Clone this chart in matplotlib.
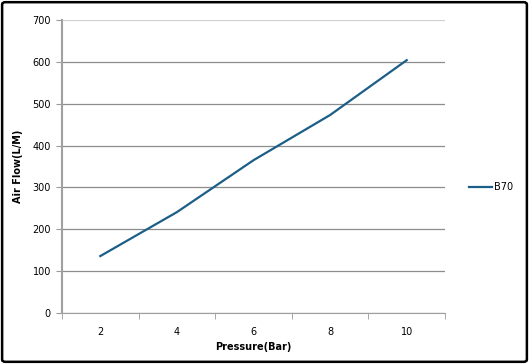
import matplotlib.pyplot as plt
from matplotlib.patches import FancyBboxPatch

pressure = ['2', '4', '6', '8', '10']
air_flow = [136, 241, 365, 473, 604]
series_name = 'B70'

fig = plt.figure(figsize=(5.29, 3.64), dpi=100)
ax = fig.add_axes([62/529, 1 - 313/364, 383/529, 293/364])

pos = list(range(len(pressure)))
ax.plot(pos, air_flow, color='#1b5e87', linewidth=1.6, label=series_name)

ax.set_xlim(-0.5, len(pressure) - 0.5)
ax.set_ylim(0, 700)
ax.set_yticks(range(0, 701, 100))
ax.set_xticks(pos)
ax.set_xticklabels(pressure)
ax.set_xticks([p + 0.5 for p in range(-1, len(pressure))], minor=True)
ax.tick_params(axis='x', which='major', length=0, labelsize=7, pad=10)
ax.tick_params(axis='x', which='minor', length=4, color='#999999', direction='out')
ax.tick_params(axis='y', length=4, color='#999999', labelsize=7, pad=4)

ax.grid(axis='y', color='#8c8c8c', linewidth=0.9)
ax.set_axisbelow(True)
# top gridline looks lighter in the original
ax.get_ygridlines()[-1].set_color('#d0d0d0')
for s in ['top', 'right']:
    ax.spines[s].set_visible(False)
ax.spines['left'].set_color('#a0a0a0')
ax.spines['left'].set_linewidth(1.5)
ax.spines['bottom'].set_color('#a0a0a0')

ax.set_xlabel('Pressure(Bar)', fontsize=7, fontweight='bold', labelpad=4)
ax.set_ylabel('Air Flow(L/M)', fontsize=7, fontweight='bold', labelpad=7)

ax.legend(loc='center left', bbox_to_anchor=(1.04, 0.43), frameon=False,
          fontsize=7, handlelength=2.4, handletextpad=0.2)

border = FancyBboxPatch((0.004, 0.006), 0.992, 0.988, boxstyle='round,pad=0,rounding_size=0.006',
                        transform=fig.transFigure, fill=False, edgecolor='black', linewidth=1.8)
fig.patches.append(border)

fig.savefig('out.png', dpi=100)
